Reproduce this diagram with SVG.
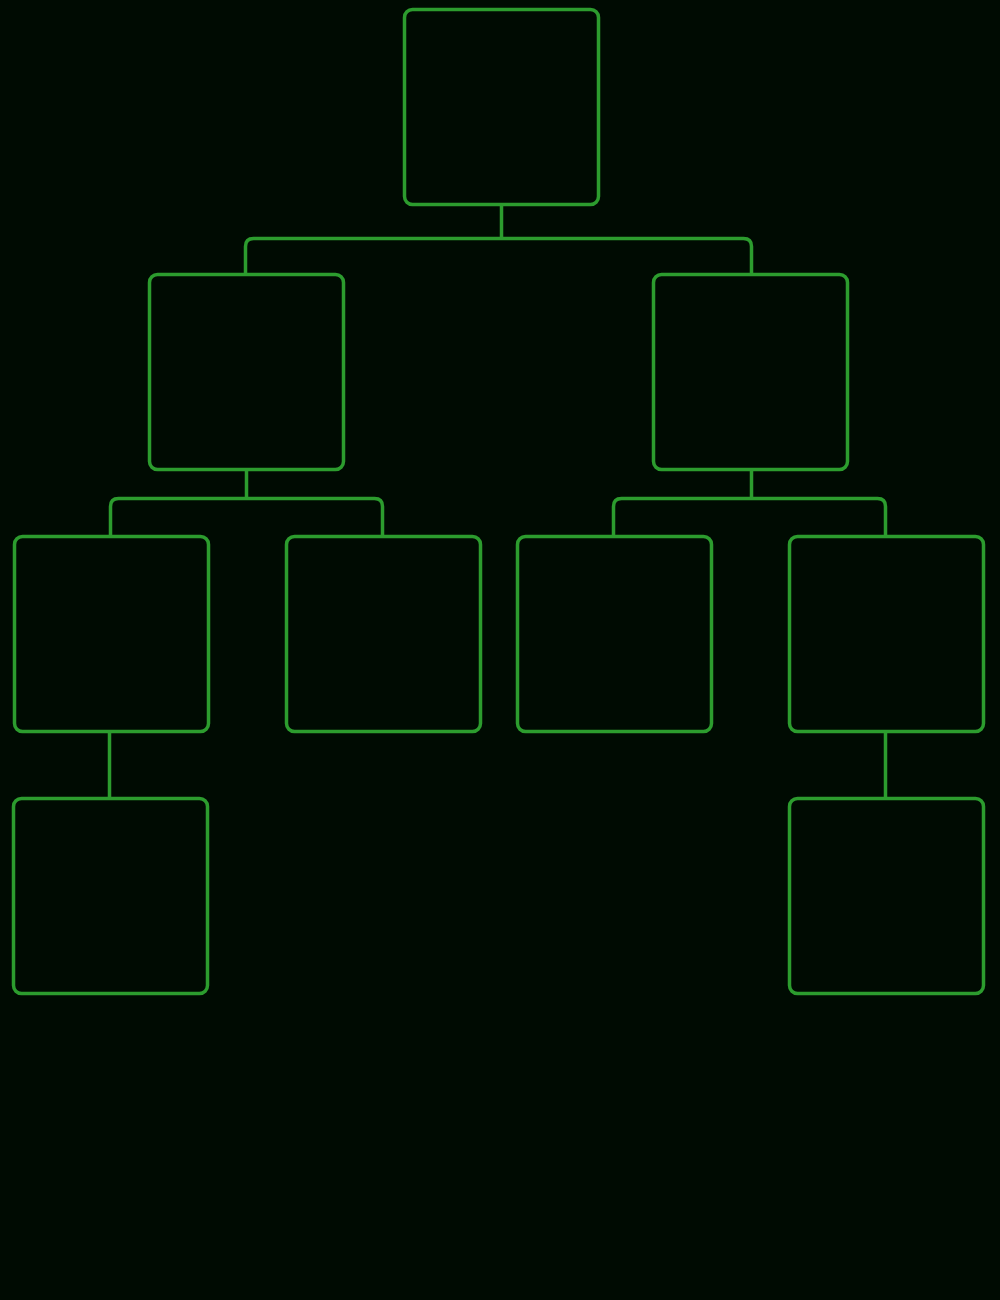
<svg xmlns="http://www.w3.org/2000/svg" width="1000" height="1300" viewBox="0 0 1000 1300">
<style>
.box{fill:none;stroke:#2c9c2e;stroke-width:3.5}
.hl{fill:none;stroke:#8fe08f;stroke-width:0.8;opacity:0.35}
.c{fill:none;stroke:#2c9c2e;stroke-width:3.5;stroke-linejoin:round}
</style>
<rect width="1000" height="1300" fill="#000b02"/>
<g id="connectors">
<path class="c" d="M501.5 204 V238.5"/>
<path class="c" d="M245.5 274 V246.5 Q245.5 238.5 253.5 238.5 H743.5 Q751.5 238.5 751.5 246.5 V274"/>
<path class="c" d="M246.5 469 V498.5"/>
<path class="c" d="M110.5 536 V506.5 Q110.5 498.5 118.5 498.5 H374.5 Q382.5 498.5 382.5 506.5 V536"/>
<path class="c" d="M751.5 469 V498.5"/>
<path class="c" d="M613.5 536 V506.5 Q613.5 498.5 621.5 498.5 H877.5 Q885.5 498.5 885.5 506.5 V536"/>
<path class="c" d="M109.5 731 V798"/>
<path class="c" d="M885.5 731 V798"/>
</g>
<g id="root"><rect class="box" x="404.5" y="9.5" width="194" height="195" rx="8"/></g>
<g id="n2a"><rect class="box" x="149.5" y="274.5" width="194" height="195" rx="8"/></g>
<g id="n2b"><rect class="box" x="653.5" y="274.5" width="194" height="195" rx="8"/></g>
<g id="n3a"><rect class="box" x="14.5" y="536.5" width="194" height="195" rx="8"/></g>
<g id="n3b"><rect class="box" x="286.5" y="536.5" width="194" height="195" rx="8"/></g>
<g id="n3c"><rect class="box" x="517.5" y="536.5" width="194" height="195" rx="8"/></g>
<g id="n3d"><rect class="box" x="789.5" y="536.5" width="194" height="195" rx="8"/></g>
<g id="n4a"><rect class="box" x="13.5" y="798.5" width="194" height="195" rx="8"/></g>
<g id="n4b"><rect class="box" x="789.5" y="798.5" width="194" height="195" rx="8"/></g>
</svg>
